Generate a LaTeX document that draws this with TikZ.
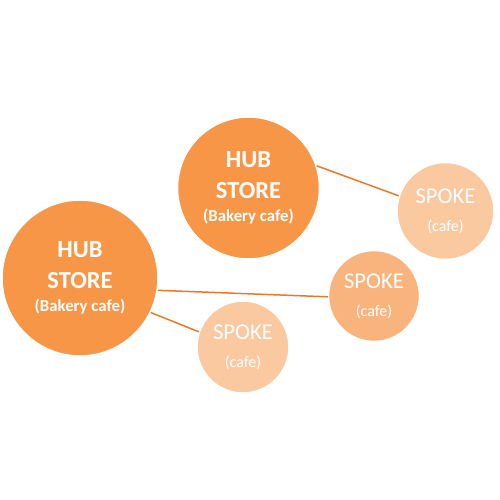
\documentclass[tikz,border=0pt]{standalone}
\usepackage{fontspec}
\setmainfont{Carlito}
\usepackage{tikz}
\definecolor{huborange}{RGB}{247,150,70}
\definecolor{spokelight}{RGB}{250,201,160}
\definecolor{spokemid}{RGB}{249,180,126}
\definecolor{linkorange}{RGB}{233,120,46}
\usetikzlibrary{positioning}

\begin{document}
\begin{tikzpicture}[x=1pt, y=-1pt,
		hub/.style={circle, fill=huborange, draw=white, line width=1.5pt, minimum size=#1, inner sep=0pt, text=white, align=center, font=\fontsize{24.5}{31}\selectfont\bfseries},
		spoke/.style={circle, draw=white, line width=1.5pt, minimum size=#1, inner sep=0pt, text=white, align=center, font=\fontsize{22.6}{28}\selectfont},
		link/.style={draw=linkorange, line width=1.5pt}]
		%Bildbereich
		\useasboundingbox (0,0) rectangle (500,500);
		%Hubs
		\node[hub=142pt] (hubTop) at (248.5,188) {HUB\\STORE\\[-8pt]{\fontsize{16.8}{19}\selectfont (Bakery cafe)}};
		\node[hub=156pt] (hubLeft) at (80,278) {HUB\\STORE\\[-8pt]{\fontsize{16.8}{19}\selectfont (Bakery cafe)}};
		%Spokes
		\node[spoke=97pt, fill=spokelight] (spokeRight) at (445.5,211) {SPOKE\\{\fontsize{16}{19}\selectfont (cafe)}};
		\node[spoke=91pt, fill=spokemid] (spokeMid) at (374,296) {SPOKE\\{\fontsize{16}{19}\selectfont (cafe)}};
		\node[spoke=92pt, fill=spokelight] (spokeLow) at (243,347) {SPOKE\\{\fontsize{16}{19}\selectfont (cafe)}};
		%Verbindungen
		\draw[link] (hubTop.18) -- (spokeRight.162);
		\draw[link] (hubLeft.-9) -- (spokeMid.181);
		\draw[link] (hubLeft.-26) -- (spokeLow.161);
	\end{tikzpicture}
\end{document}
